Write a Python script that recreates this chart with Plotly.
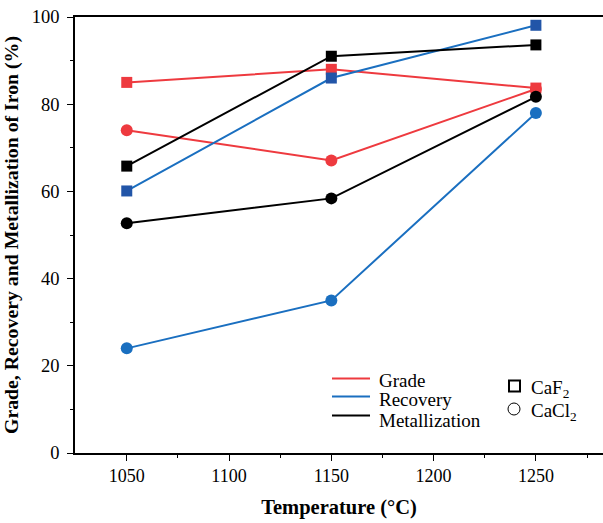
import plotly.graph_objects as go

temps = [1050, 1150, 1250]
grade_caf2 = [85.0, 88.0, 83.7]
grade_cacl2 = [74.0, 67.1, 83.5]
recovery_caf2 = [60.1, 86.0, 98.1]
recovery_cacl2 = [24.0, 35.0, 78.0]
metal_caf2 = [65.8, 91.0, 93.6]
metal_cacl2 = [52.7, 58.4, 81.7]
x_ticks = [1050, 1100, 1150, 1200, 1250]
y_ticks = [0, 20, 40, 60, 80, 100]

RED = "#EE3A3F"
BLUE_LINE = "#1A6FC0"
BLUE_SQ = "#2255A8"
BLACK = "#000000"
FONT = "Times New Roman, Liberation Serif, serif"

W, H = 603, 523
L, R, T, B = 75, 0, 17, 70
PW, PH = W - L - R, H - T - B

def px(x):
    return (x - L) / PW

def py(y):
    return (H - B - y) / PH

fig = go.Figure()

series = [
    (grade_caf2, RED, RED, "square", 11),
    (grade_cacl2, RED, RED, "circle", 12),
    (recovery_caf2, BLUE_LINE, BLUE_SQ, "square", 11),
    (recovery_cacl2, BLUE_LINE, BLUE_LINE, "circle", 12),
    (metal_caf2, BLACK, BLACK, "square", 11),
    (metal_cacl2, BLACK, BLACK, "circle", 12),
]
for vals, lc, mc, sym, sz in series:
    fig.add_trace(go.Scatter(
        x=temps, y=vals, mode="lines+markers",
        line=dict(color=lc, width=2),
        marker=dict(color=mc, symbol=sym, size=sz, line=dict(width=0)),
        showlegend=False, cliponaxis=False, hoverinfo="skip",
    ))

shapes = []
annotations = []
leg_items = [("Grade", RED, 378.5, 380), ("Recovery", BLUE_LINE, 396.5, 399), ("Metallization", BLACK, 415.5, 420)]
for name, col, ly, ty in leg_items:
    shapes.append(dict(type="line", xref="paper", yref="paper",
                       x0=px(332), x1=px(370), y0=py(ly), y1=py(ly),
                       line=dict(color=col, width=2)))
    annotations.append(dict(text=name, xref="paper", yref="paper", x=px(377), y=py(ty),
                            xanchor="left", yanchor="middle", showarrow=False,
                            font=dict(family=FONT, size=19, color="black")))
# marker legend
shapes.append(dict(type="rect", xref="paper", yref="paper",
                   x0=px(509), x1=px(520), y0=py(380.5), y1=py(391.5),
                   line=dict(color="black", width=2), fillcolor="rgba(0,0,0,0)"))
shapes.append(dict(type="circle", xref="paper", yref="paper",
                   x0=px(508), x1=px(520), y0=py(403), y1=py(415),
                   line=dict(color="black", width=1), fillcolor="rgba(0,0,0,0)"))
annotations.append(dict(text="CaF<sub>2</sub>", xref="paper", yref="paper", x=px(529), y=py(389),
                        xanchor="left", yanchor="middle", showarrow=False,
                        font=dict(family=FONT, size=19, color="black")))
annotations.append(dict(text="CaCl<sub>2</sub>", xref="paper", yref="paper", x=px(529), y=py(412),
                        xanchor="left", yanchor="middle", showarrow=False,
                        font=dict(family=FONT, size=19, color="black")))

fig.update_layout(
    width=W, height=H,
    margin=dict(l=L, r=R, t=T, b=B, autoexpand=False),
    plot_bgcolor="white", paper_bgcolor="white",
    font=dict(family=FONT, size=17, color="black"),
    shapes=shapes, annotations=annotations,
    hovermode=False,
    xaxis=dict(
        range=[1024.7, 1282.8], tickvals=x_ticks, automargin=False,
        showgrid=False, zeroline=False, showline=True, linecolor="black", linewidth=1.5,
        mirror=True, ticks="outside", ticklen=6, tickwidth=1.2, tickcolor="black",
        minor=dict(tickvals=[1075, 1125, 1175, 1225, 1275], ticks="outside", ticklen=3, tickcolor="black"),
        tickfont=dict(family=FONT, size=18),
        title=dict(text="<b>Temperature (°C)</b>", font=dict(family=FONT, size=20.5), standoff=14),
    ),
    yaxis=dict(
        range=[0, 100], tickvals=y_ticks, automargin=False,
        showgrid=False, zeroline=False, showline=True, linecolor="black", linewidth=1.5,
        ticks="outside", ticklen=6, tickwidth=1.2, tickcolor="black", ticklabelstandoff=4,
        minor=dict(tickvals=[10, 30, 50, 70, 90], ticks="outside", ticklen=3, tickcolor="black"),
        tickfont=dict(family=FONT, size=18.5),
        title=dict(text="<b>Grade, Recovery and Metallization of Iron (%)</b>", font=dict(family=FONT, size=19.8), standoff=8),
    ),
)

fig.write_html("out.html", config={"displayModeBar": False},
               post_script="document.body.style.margin='0';")
